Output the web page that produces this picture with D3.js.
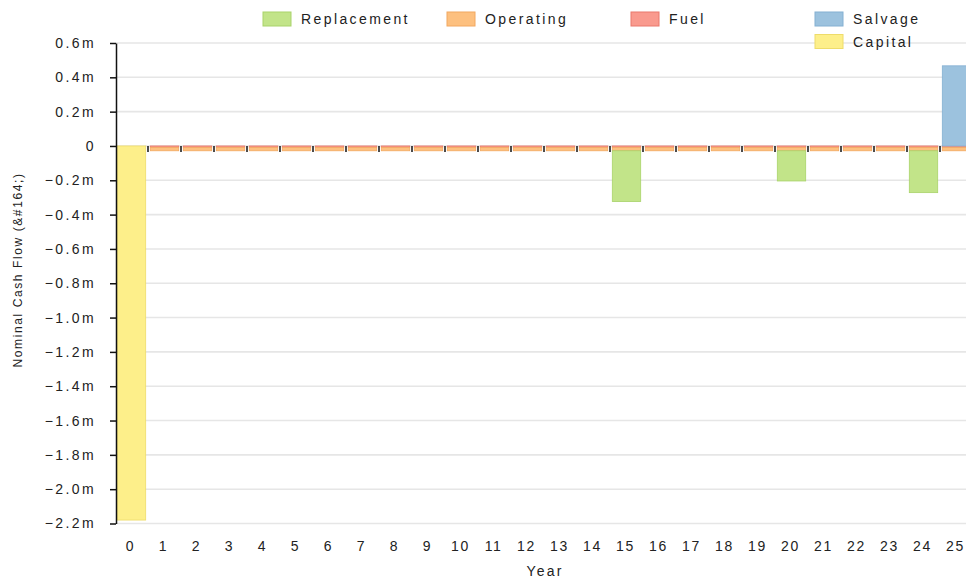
<!DOCTYPE html>
<html>
<head>
<meta charset="utf-8">
<script src="https://cdn.jsdelivr.net/npm/d3@7"></script>
<style>
  html, body { margin: 0; padding: 0; background: #fff; }
  svg { display: block; }
  text { font-family: "Liberation Sans", Arial, sans-serif; fill: #222; }
</style>
</head>
<body>
<svg id="chart" width="966" height="579"></svg>
<script>
// Cash flow by year, in millions
const years = [0, 1, 2, 3, 4, 5, 6, 7, 8, 9, 10, 11, 12, 13, 14, 15, 16, 17, 18, 19, 20, 21, 22, 23, 24, 25];
const replacement = [0, 0, 0, 0, 0, 0, 0, 0, 0, 0, 0, 0, 0, 0, 0, -0.296, 0, 0, 0, 0, -0.176, 0, 0, 0, -0.244, 0];
const operating = [0, -0.020, -0.020, -0.020, -0.020, -0.020, -0.020, -0.020, -0.020, -0.020, -0.020, -0.020, -0.020, -0.020, -0.020, -0.020, -0.020, -0.020, -0.020, -0.020, -0.020, -0.020, -0.020, -0.020, -0.020, -0.020];
const fuel = [0, -0.008, -0.008, -0.008, -0.008, -0.008, -0.008, -0.008, -0.008, -0.008, -0.008, -0.008, -0.008, -0.008, -0.008, -0.008, -0.008, -0.008, -0.008, -0.008, -0.008, -0.008, -0.008, -0.008, -0.008, -0.008];
const salvage = [0, 0, 0, 0, 0, 0, 0, 0, 0, 0, 0, 0, 0, 0, 0, 0, 0, 0, 0, 0, 0, 0, 0, 0, 0, 0.467];
const capital = [-2.18, 0, 0, 0, 0, 0, 0, 0, 0, 0, 0, 0, 0, 0, 0, 0, 0, 0, 0, 0, 0, 0, 0, 0, 0, 0];

const yTicks = [0.6, 0.4, 0.2, 0, -0.2, -0.4, -0.6, -0.8, -1.0, -1.2, -1.4, -1.6, -1.8, -2.0, -2.2];
const legendNames = ["Replacement", "Operating", "Fuel", "Salvage", "Capital"];
const colors = {
  Replacement: "#c2e489",
  Operating: "#fdc07f",
  Fuel: "#f99a8e",
  Salvage: "#9cc2de",
  Capital: "#fdef8a"
};
const strokes = {
  Replacement: "#a9d36a",
  Operating: "#f2a860",
  Fuel: "#e9796c",
  Salvage: "#84b0d2",
  Capital: "#eedc6a"
};

// rows for the stack
const rows = years.map((yr, i) => ({
  year: yr,
  Replacement: replacement[i],
  Operating: operating[i],
  Fuel: fuel[i],
  Salvage: salvage[i],
  Capital: capital[i]
}));

// nearest to zero first
const stackOrder = ["Fuel", "Operating", "Replacement", "Salvage", "Capital"];
const series = d3.stack().keys(stackOrder).offset(d3.stackOffsetDiverging)(rows);

const svg = d3.select("#chart");
const left = 115, plotTop = 43, plotBottom = 523.5, step = 33;

const x = d3.scaleBand()
  .domain(years)
  .range([left, left + step * years.length])
  .paddingInner(0.14)
  .paddingOuter(0.07);

const y = d3.scaleLinear()
  .domain([-2.2, 0.6])
  .range([plotBottom, plotTop]);

// horizontal grid
svg.append("g")
  .selectAll("line")
  .data(yTicks)
  .join("line")
  .attr("x1", left + 1)
  .attr("x2", 966)
  .attr("y1", d => y(d))
  .attr("y2", d => y(d))
  .attr("stroke", "#e6e6e6")
  .attr("stroke-width", 1.6);

// stacked bars
svg.append("g")
  .selectAll("g")
  .data(series)
  .join("g")
  .attr("fill", d => colors[d.key])
  .attr("stroke", d => strokes[d.key])
  .attr("stroke-width", 0.8)
  .selectAll("rect")
  .data(d => d.filter(p => p[1] - p[0] !== 0))
  .join("rect")
  .attr("x", d => x(d.data.year))
  .attr("width", x.bandwidth())
  .attr("y", d => y(Math.max(d[0], d[1])))
  .attr("height", d => Math.abs(y(d[0]) - y(d[1])));

// boundary ticks along the zero line
const zeroAxis = svg.append("g")
  .attr("transform", `translate(${x.step() / 2},${y(0)})`)
  .call(d3.axisBottom(x).tickSizeInner(6).tickSizeOuter(0).tickFormat(""));
zeroAxis.select(".domain").remove();
zeroAxis.selectAll(".tick line").attr("stroke", "#111").attr("stroke-width", 1.5);

// year labels under the plot
const xAxis = svg.append("g")
  .attr("transform", `translate(0,${plotBottom})`)
  .call(d3.axisBottom(x).tickSize(0).tickPadding(18));
xAxis.select(".domain").remove();
xAxis.selectAll("text")
  .attr("font-size", 14)
  .attr("font-family", "Liberation Sans, Arial, sans-serif")
  .attr("fill", "#222")
  .style("letter-spacing", "1.6px")
  .attr("dx", "-1px");

// y axis
const yAxis = svg.append("g")
  .attr("transform", `translate(${left + 1},0)`)
  .call(d3.axisLeft(y)
    .tickValues(yTicks)
    .tickSizeInner(6)
    .tickSizeOuter(0)
    .tickPadding(14)
    .tickFormat(d => d === 0 ? "0" : d3.format(".1f")(d) + "m"));
yAxis.select(".domain").attr("stroke", "#111").attr("stroke-width", 1.5);
yAxis.selectAll(".tick line").attr("stroke", "#111").attr("stroke-width", 1.5);
yAxis.selectAll("text")
  .attr("font-size", 14)
  .attr("font-family", "Liberation Sans, Arial, sans-serif")
  .attr("fill", "#222")
  .style("letter-spacing", "2.4px");

// axis titles
svg.append("text")
  .attr("x", 545)
  .attr("y", 576)
  .attr("text-anchor", "middle")
  .attr("font-size", 14)
  .style("letter-spacing", "2.2px")
  .text("Year");

svg.append("text")
  .attr("transform", "translate(22,270) rotate(-90)")
  .attr("text-anchor", "middle")
  .attr("font-size", 12)
  .style("letter-spacing", "1.6px")
  .text("Nominal Cash Flow (&#164;)");

// legend: four columns; the fifth entry sits under the fourth
const legend = svg.append("g");
const item = legend.selectAll("g")
  .data(legendNames)
  .join("g")
  .attr("transform", (d, i) => {
    const col = Math.min(i, 3);
    const row = i < 4 ? 0 : 1;
    return `translate(${263 + col * 184},${12 + row * 22.5})`;
  });
item.append("rect")
  .attr("width", 28)
  .attr("height", 14)
  .attr("fill", d => colors[d])
  .attr("stroke", d => strokes[d])
  .attr("stroke-width", 1);
item.append("text")
  .attr("x", 38)
  .attr("y", 12)
  .attr("font-size", 14)
  .style("letter-spacing", "2.4px")
  .text(d => d);
</script>
</body>
</html>
